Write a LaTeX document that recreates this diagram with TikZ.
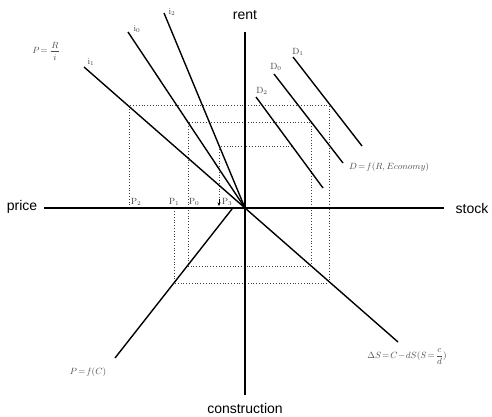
\documentclass[tikz,border=0pt]{standalone}
\usepackage{fontspec}
\setsansfont{Liberation Sans}
\usetikzlibrary{arrows.meta}
\tikzset{
  axis/.style={line width=2.6pt},
  curve/.style={line width=1.4pt},
  guide/.style={dotted, line width=0.8pt, black!75},
  axlabel/.style={font=\sffamily\fontsize{14}{14}\selectfont, inner sep=0pt},
  plabel/.style={font=\fontsize{9}{9}\selectfont, inner sep=0pt, text=black!75},
  eqlabel/.style={font=\fontsize{9}{9}\selectfont, inner sep=0pt, text=black!70},
}
\begin{document}
\begin{tikzpicture}[x=1pt,y=-1pt]
\useasboundingbox (0,0) rectangle (492,417);
% origin and axes
\coordinate (O) at (245,208);
\coordinate (Ytop) at (245,32);
\coordinate (Ybot) at (245,395);
\coordinate (Xl) at (44,208);
\coordinate (Xr) at (444,208);
\node[axlabel] (rent) at (245,15) {rent};
\node[axlabel] (constr) at (245,408) {construction};
\node[axlabel] (price) at (22,207) {price};
\node[axlabel] (stock) at (472,208) {stock};
% dotted guides
\draw[guide] (129,208) -- (129,105.7) -- (329,105.7) -- (329,283) -- (174,283) -- (174,208);
\draw[guide] (188,266.7) -- (188,122) -- (311,122) -- (311,266.7) -- cycle;
\draw[guide] (292,146.7) -- (219,146.7) -- (219,200);
\draw[-{Stealth[length=3.5pt,width=3pt]}, line width=0.6pt] (219,199) -- (219,206);
% axes
\draw[axis] (Xl) -- (Xr);
\draw[axis] (Ytop) -- (Ybot);
% interest lines
\coordinate (i1e) at (84,67);
\coordinate (i0e) at (128,32);
\coordinate (i2e) at (164,13);
\draw[curve] (O) -- (i1e);
\draw[curve] (O) -- (i0e);
\draw[curve] (O) -- (i2e);
\node[plabel] (i1) at (91,62) {i$_1$};
\node[plabel] (i0) at (137,29) {i$_0$};
\node[plabel] (i2) at (172,12) {i$_2$};
% demand lines
\coordinate (D1a) at (293,57);  \coordinate (D1b) at (362,146);
\coordinate (D0a) at (274,74);  \coordinate (D0b) at (343,163);
\coordinate (D2a) at (256,97);  \coordinate (D2b) at (323,188);
\draw[curve] (D1a) -- (D1b);
\draw[curve] (D0a) -- (D0b);
\draw[curve] (D2a) -- (D2b);
\node[plabel] (D1) at (298,52) {D$_1$};
\node[plabel] (D0) at (276,67) {D$_0$};
\node[plabel] (D2) at (262,91) {D$_2$};
% construction and stock lines
\coordinate (Ca) at (232,209); \coordinate (Cb) at (115,358);
\draw[curve] (Ca) -- (Cb);
\coordinate (Se) at (398,342);
\draw[curve] (O) -- (Se);
% price labels
\node[plabel] (P2) at (136,202) {P$_2$};
\node[plabel] (P1) at (174,202) {P$_1$};
\node[plabel] (P0) at (194,202) {P$_0$};
\node[plabel] (P3) at (227,202) {P$_3$};
% equations
\node[eqlabel] (eqR) at (46,51) {$P\!=\displaystyle\frac{R}{i}$};
\node[eqlabel, anchor=west] (eqD) at (349,167) {$D\!=\!f(R, Economy)$};
\node[eqlabel] (eqC) at (88,372) {$P\!=\!f(C)$};
\node[eqlabel] (eqS) at (407,357) {$\Delta S\!=\!C\!-\!dS(S\!=\!\displaystyle\frac{c}{d})$};
\end{tikzpicture}
\end{document}
